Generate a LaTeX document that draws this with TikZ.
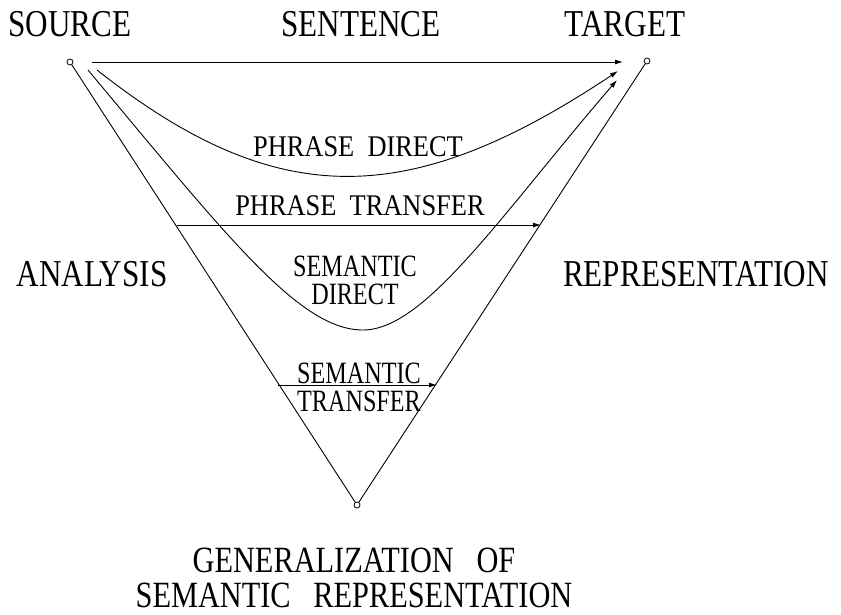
\documentclass[tikz,border=0pt]{standalone}
\usepackage{fontspec}
\setmainfont[FakeStretch=0.82]{Liberation Serif}
\newfontfamily\phrfont[FakeStretch=0.88]{Liberation Serif}
\newfontfamily\semfont[FakeStretch=0.78]{Liberation Serif}
\usetikzlibrary{arrows.meta}
\begin{document}
\begin{tikzpicture}[x=1pt,y=-1pt,
  lbl/.style={inner sep=0pt, align=center},
  big/.style={lbl, font=\fontsize{38}{40}\selectfont},
  bottomlbl/.style={lbl, font=\fontsize{37}{35}\selectfont},
  phr/.style={lbl, font=\phrfont\fontsize{30}{32}\selectfont},
  sem/.style={lbl, font=\semfont\fontsize{31}{28}\selectfont},
  ln/.style={line width=0.9pt},
  arr/.style={ln, -{Latex[length=8pt,width=5pt]}},
  vtx/.style={circle, draw, line width=0.8pt, minimum size=6pt, inner sep=0pt}]
\useasboundingbox (0,0) rectangle (841,615);
% vertices
\node[vtx] (src) at (70,62) {};
\node[vtx] (tgt) at (647,61) {};
\node[vtx] (bot) at (357,505) {};
% V sides
\draw[ln] (src) -- (bot);
\draw[ln] (bot) -- (tgt);
% sentence
\coordinate (s0) at (92,62);
\coordinate (s1) at (623,62);
\draw[arr] (s0) -- (s1);
% phrase direct
\coordinate (pd0) at (97,70);
\coordinate (pd1) at (618,71);
\draw[arr] (pd0) .. controls (276,211) and (408,211) .. (pd1);
% semantic direct
\coordinate (sd0) at (88,70);
\coordinate (sdm) at (363,330);
\coordinate (sd1) at (617,80);
\draw[arr] (sd0) .. controls (230,240) and (300,330) .. (sdm) .. controls (425,330) and (500,216) .. (sd1);
% phrase transfer
\coordinate (pt0) at (177,225);
\coordinate (pt1) at (541,225);
\draw[arr] (pt0) -- (pt1);
% semantic transfer
\coordinate (st0) at (278,385);
\coordinate (st1) at (437,385);
\draw[arr] (st0) -- (st1);
% labels
\node[big] (lsource) at (70,24.5) {SOURCE};
\node[big] (lsentence) at (361,24.5) {SENTENCE};
\node[big] (ltarget) at (625,24.5) {TARGET};
\node[big] (lanalysis) at (92,274) {ANALYSIS};
\node[big] (lrep) at (696,274) {REPRESENTATION};
\node[phr] (lpd) at (358,147) {PHRASE\ \ DIRECT};
\node[phr] (lpt) at (360,206) {PHRASE\ \ TRANSFER};
\node[sem] (lsd) at (355,280) {SEMANTIC\\DIRECT};
\node[sem] (lst) at (359,387) {SEMANTIC\\TRANSFER};
\node[bottomlbl] (lgen) at (354,578) {GENERALIZATION\ \ \ OF\\SEMANTIC\ \ \ REPRESENTATION};
\end{tikzpicture}
\end{document}
